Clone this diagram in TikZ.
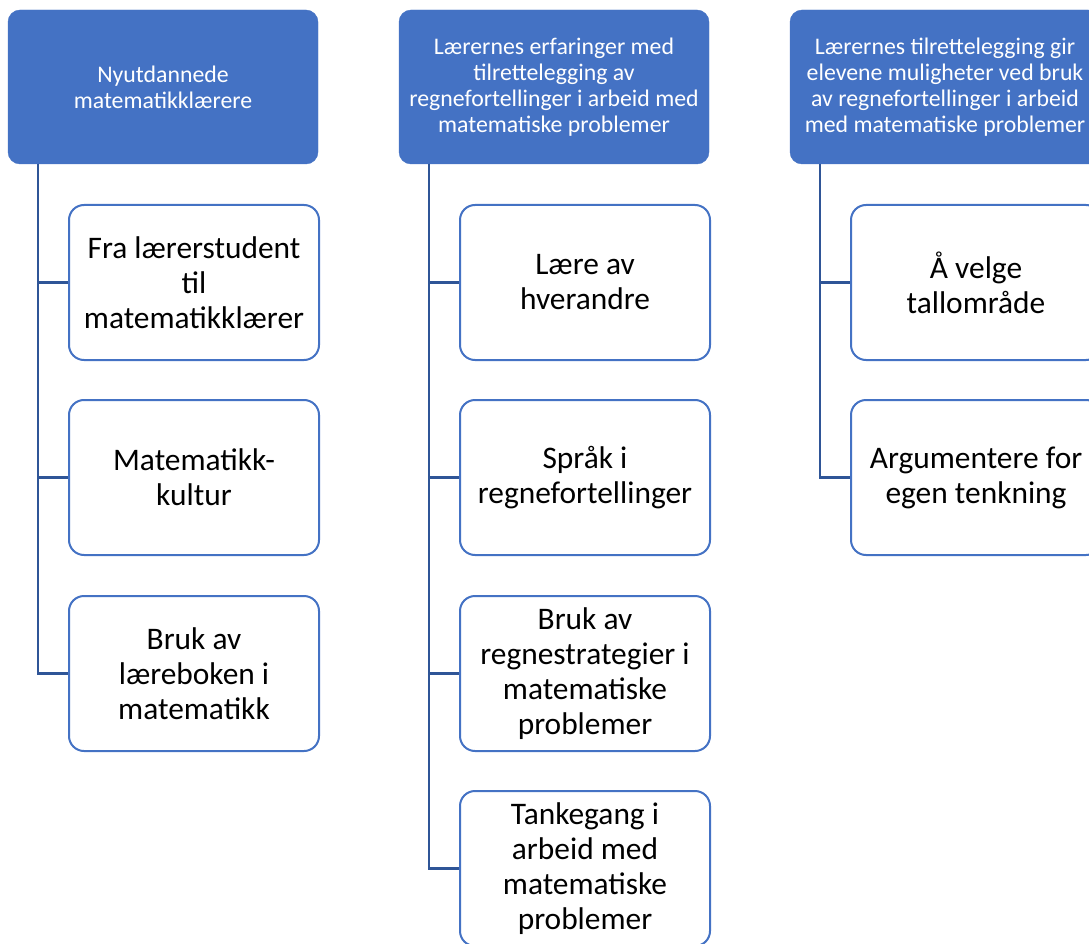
\documentclass[tikz,border=0pt]{standalone}
\usepackage{fontspec}
\setmainfont{Carlito}
\definecolor{hdr}{HTML}{4472C4}
\definecolor{conn}{HTML}{2F5597}
\tikzset{
  hdrbox/.style={draw=hdr, fill=hdr, rounded corners=12pt, minimum width=310pt, minimum height=154pt,
    text=white, align=center, inner sep=0pt, font=\fontsize{23.8}{26}\selectfont},
  childbox/.style={draw=hdr, fill=white, line width=2pt, rounded corners=15pt, minimum width=250pt, minimum height=155pt,
    text=black, align=center, inner sep=0pt, font=\fontsize{31.4}{35}\selectfont},
  connline/.style={draw=conn, line width=2.5pt}
}
\begin{document}
\begin{tikzpicture}[x=1pt,y=-1pt]
\useasboundingbox (0,0) rectangle (1089,944);
\begin{scope}
\clip (0,0) rectangle (1089,944);
% headers
\node[hdrbox] (h1) at (163,87) {Nyutdannede\\matematikklærere};
\node[hdrbox] (h2) at (554,87) {Lærernes erfaringer med\\tilrettelegging av\\regnefortellinger i arbeid med\\matematiske problemer};
\node[hdrbox] (h3) at (945,87) {Lærernes tilrettelegging gir\\elevene muligheter ved bruk\\av regnefortellinger i arbeid\\med matematiske problemer};
% trunk coordinates
\coordinate (t1) at (38,164);
\coordinate (t2) at (429,164);
\coordinate (t3) at (820,164);
% children column 1
\node[childbox] (c11) at (194,282.5) {Fra lærerstudent\\til\\matematikklærer};
\node[childbox] (c12) at (194,477.5) {Matematikk-\\kultur};
\node[childbox] (c13) at (194,673.5) {Bruk av\\læreboken i\\matematikk};
% column 2
\node[childbox] (c21) at (585,282.5) {Lære av\\hverandre};
\node[childbox] (c22) at (585,477.5) {Språk i\\regnefortellinger};
\node[childbox] (c23) at (585,673.5) {Bruk av\\regnestrategier i\\matematiske\\problemer};
\node[childbox] (c24) at (585,868.5) {Tankegang i\\arbeid med\\matematiske\\problemer};
% column 3
\node[childbox] (c31) at (976,282.5) {Å velge\\tallområde};
\node[childbox] (c32) at (976,477.5) {Argumentere for\\egen tenkning};
% connectors
\foreach \c in {c11,c12,c13} \draw[connline] (t1) |- (\c.west);
\foreach \c in {c21,c22,c23,c24} \draw[connline] (t2) |- (\c.west);
\foreach \c in {c31,c32} \draw[connline] (t3) |- (\c.west);
\end{scope}
\end{tikzpicture}
\end{document}
